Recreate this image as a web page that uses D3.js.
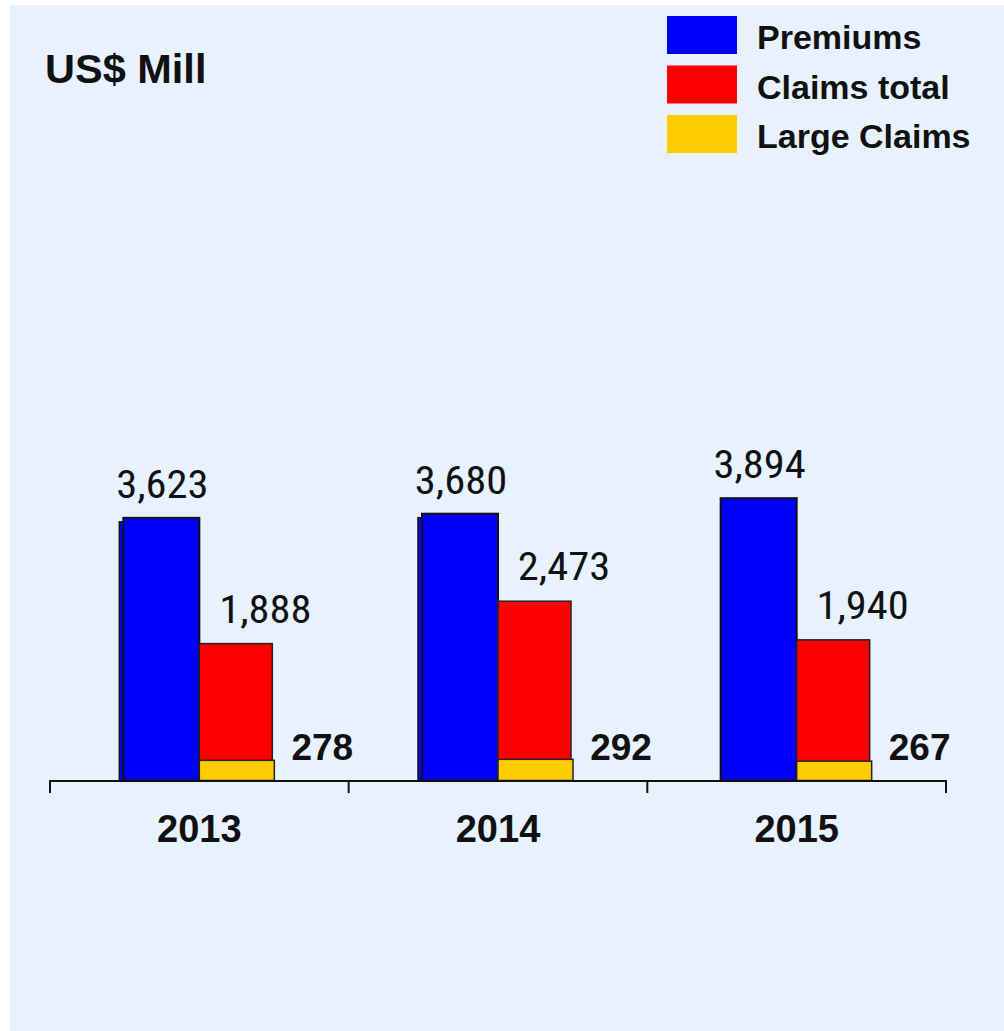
<!DOCTYPE html>
<html>
<head>
<meta charset="utf-8">
<script src="https://cdn.jsdelivr.net/npm/d3@7"></script>
<style>
  body { margin: 0; background: #fff; }
  svg { display: block; }
  text { font-family: "Liberation Sans", Arial, sans-serif; }
  .val { font-family: "Liberation Sans Narrow", "Roboto Condensed", "DejaVu Sans Condensed", sans-serif; }
</style>
</head>
<body>
<div id="chart"></div>
<script>
    // chart data
    const years = ["2013", "2014", "2015"];
    const premiums = [3623, 3680, 3894];
    const claimsTotal = [1888, 2473, 1940];
    const largeClaims = [278, 292, 267];
    const seriesNames = ["Premiums", "Claims total", "Large Claims"];
    const seriesColors = ["#0000ff", "#ff0000", "#ffcc00"];

    const svgWidth = 1004;
    const svgHeight = 1031;

    const svg = d3.select("#chart")
        .append("svg")
        .attr("width", svgWidth)
        .attr("height", svgHeight);

    // panel background
    svg.append("rect")
        .attr("x", 10)
        .attr("y", 5)
        .attr("width", svgWidth - 10)
        .attr("height", svgHeight - 5)
        .attr("fill", "#e8f2fe");

    const x = d3.scaleBand()
        .domain(years)
        .range([50, 946]);

    const y = d3.scaleLinear()
        .domain([0, 5000])
        .range([780.5, 780.5 - 362.5]);

    const fmt = d3.format(",");

    const groups = svg.selectAll(".year")
        .data(years)
        .join("g")
        .attr("class", "year")
        .attr("transform", d => `translate(${x(d) + x.bandwidth() / 2},0)`);

    // small offset copy behind the first two premium bars
    groups.filter((d, i) => i < 2).append("rect")
        .attr("x", -80)
        .attr("y", (d, i) => y(premiums[i]) + 4)
        .attr("width", 76)
        .attr("height", (d, i) => y(0) - y(premiums[i]) - 4)
        .attr("fill", seriesColors[0])
        .attr("stroke", "#111")
        .attr("stroke-width", 1.5);

    groups.append("rect")
        .attr("x", -76)
        .attr("y", (d, i) => y(premiums[i]))
        .attr("width", 76)
        .attr("height", (d, i) => y(0) - y(premiums[i]))
        .attr("fill", seriesColors[0])
        .attr("stroke", "#111")
        .attr("stroke-width", 2);

    groups.append("rect")
        .attr("x", 0)
        .attr("y", (d, i) => y(claimsTotal[i]))
        .attr("width", 73)
        .attr("height", (d, i) => y(0) - y(claimsTotal[i]))
        .attr("fill", seriesColors[1])
        .attr("stroke", "#222")
        .attr("stroke-width", 1.5);

    groups.append("rect")
        .attr("x", 0)
        .attr("y", (d, i) => y(largeClaims[i]))
        .attr("width", 75)
        .attr("height", (d, i) => y(0) - y(largeClaims[i]))
        .attr("fill", seriesColors[2])
        .attr("stroke", "#222")
        .attr("stroke-width", 1.5);

    // value labels (narrow font stretched a little to match)
    groups.append("g")
        .attr("transform", (d, i) => `translate(-37,${y(premiums[i]) - 20}) scale(1.12,1)`)
        .append("text")
        .attr("class", "val")
        .attr("text-anchor", "middle")
        .attr("font-size", 38)
        .attr("fill", "#111")
        .text((d, i) => fmt(premiums[i]));

    groups.append("g")
        .attr("transform", (d, i) => `translate(66,${y(claimsTotal[i]) - 21}) scale(1.12,1)`)
        .append("text")
        .attr("class", "val")
        .attr("text-anchor", "middle")
        .attr("font-size", 38)
        .attr("fill", "#111")
        .text((d, i) => fmt(claimsTotal[i]));

    groups.append("text")
        .attr("x", 123)
        .attr("y", 760)
        .attr("text-anchor", "middle")
        .attr("font-size", 37)
        .attr("font-weight", "bold")
        .attr("fill", "#111")
        .text((d, i) => fmt(largeClaims[i]));

    // axis
    svg.append("g")
        .attr("transform", "translate(0,780.5)")
        .call(d3.axisBottom(x).tickSize(0).tickPadding(35).tickSizeOuter(0))
        .call(g => g.select(".domain").attr("stroke", "#111").attr("stroke-width", 2))
        .call(g => g.selectAll(".tick text")
            .attr("font-family", "Liberation Sans, Arial, sans-serif")
            .attr("font-size", 38)
            .attr("font-weight", "bold")
            .attr("fill", "#111"));

    svg.append("g").selectAll("line")
        .data(years.concat("end"))
        .join("line")
        .attr("x1", (d, i) => 50 + i * x.step())
        .attr("x2", (d, i) => 50 + i * x.step())
        .attr("y1", 780)
        .attr("y2", 793)
        .attr("stroke", "#111")
        .attr("stroke-width", 2);

    // title
    svg.append("text")
        .attr("x", 45)
        .attr("y", 83)
        .attr("font-size", 41.5)
        .attr("font-weight", "bold")
        .attr("fill", "#111")
        .text("US$ Mill");

    // legend
    const legend = svg.append("g")
        .attr("transform", "translate(667,16)");

    const item = legend.selectAll("g")
        .data(seriesNames)
        .join("g")
        .attr("transform", (d, i) => `translate(0,${i * 49.5})`);

    item.append("rect")
        .attr("width", 70)
        .attr("height", 38)
        .attr("fill", (d, i) => seriesColors[i]);

    item.append("text")
        .attr("x", 90)
        .attr("y", 33)
        .attr("font-size", 34)
        .attr("font-weight", "bold")
        .attr("fill", "#111")
        .text(d => d);
</script>
</body>
</html>
